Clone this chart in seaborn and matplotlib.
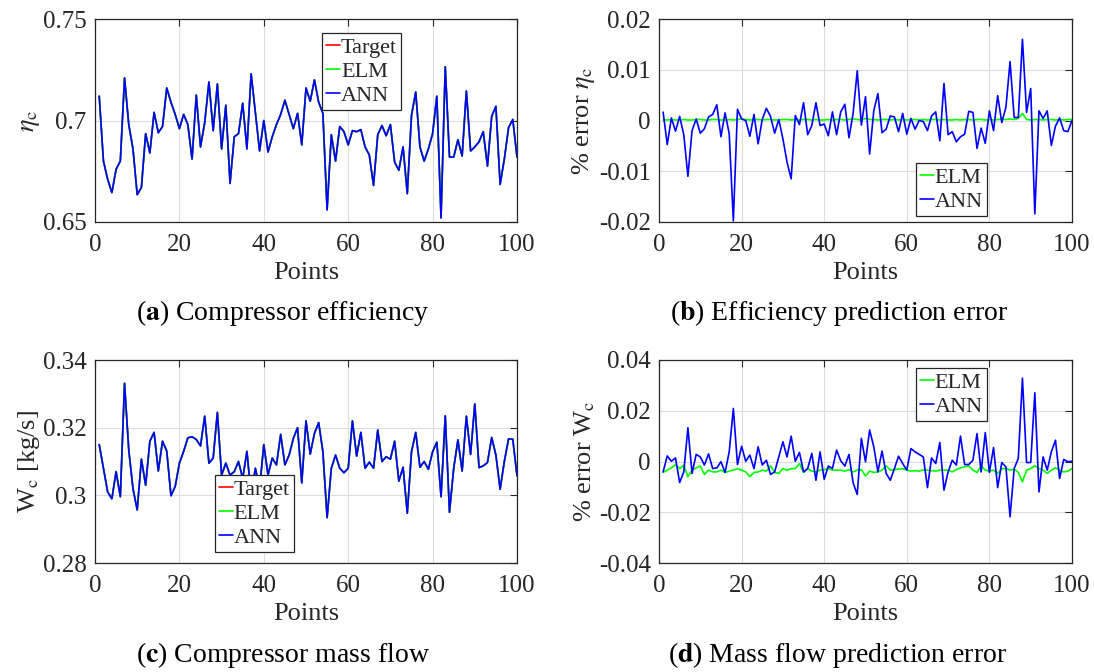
import numpy as np
import pandas as pd
import matplotlib
matplotlib.use("Agg")
import matplotlib.pyplot as plt
import seaborn as sns

points = list(range(1, 101))

eta_c = [0.712, 0.680, 0.671, 0.6645, 0.676, 0.680, 0.721, 0.698, 0.686, 0.6635,
         0.667, 0.6935, 0.684, 0.704, 0.694, 0.697, 0.716, 0.709, 0.703, 0.696,
         0.703, 0.698, 0.681, 0.7125, 0.687, 0.699, 0.719, 0.695, 0.718, 0.686,
         0.7075, 0.669, 0.692, 0.6935, 0.7085, 0.686, 0.723, 0.704, 0.685, 0.700,
         0.6845, 0.692, 0.698, 0.703, 0.710, 0.703, 0.696, 0.7035, 0.688, 0.716,
         0.7095, 0.720, 0.709, 0.7035, 0.656, 0.693, 0.680, 0.697, 0.6945, 0.688,
         0.695, 0.6945, 0.6955, 0.687, 0.683, 0.668, 0.693, 0.6975, 0.6925, 0.698,
         0.6795, 0.6755, 0.687, 0.664, 0.7025, 0.714, 0.687, 0.680, 0.686, 0.6935,
         0.712, 0.652, 0.7265, 0.682, 0.682, 0.6905, 0.6825, 0.7145, 0.685, 0.687,
         0.6895, 0.6945, 0.6775, 0.702, 0.707, 0.6685, 0.681, 0.6965, 0.7005, 0.682]

err_eta_ann = [0.00165, -0.00475, 0.0005, -0.0021, 0.0008, -0.0028, -0.011, -0.002, 0.0003, -0.0025,
               -0.0016, 0.0007, 0.0012, 0.0031, -0.0032, 0.0015, -0.0026, -0.0198, 0.0022, 0.0003,
               0.0, -0.0031, 0.0012, -0.0046, 0.0002, 0.0024, 0.0008, -0.0025, 0.0002, -0.0036,
               -0.0082, -0.0115, 0.001, -0.0008, 0.0035, -0.0028, -0.001, 0.0035, -0.001, -0.0007,
               -0.003, 0.0017, -0.0028, 0.0017, 0.0032, -0.0034, 0.0014, 0.0098, -0.0009, 0.0047,
               -0.0066, 0.0019, 0.0053, -0.0024, -0.0017, 0.0009, 0.0007, -0.0022, 0.0014, -0.0027,
               0.0004, -0.0017, 0.0, -0.0002, -0.002, 0.0009, 0.0017, -0.004, 0.0073, -0.0028,
               -0.0022, -0.0042, -0.0032, -0.0027, 0.0018, 0.0016, -0.0055, -0.0015, -0.0045, 0.0019,
               -0.002, 0.0049, -0.0004, 0.0026, 0.0116, 0.0006, 0.0006, 0.016, 0.0016, 0.0063,
               -0.0184, 0.0019, 0.0004, 0.0019, -0.0049, -0.0011, 0.0005, -0.002, -0.0022, 0.0]

err_eta_elm = [0.0001, 0.0001, 0.0002, 0.0001, 0.0001, 0.0002, 0.0001, 0.0001, 0.0002, 0.0002,
               0.0001, 0.0001, 0.0002, 0.0002, 0.0001, 0.0001, 0.0002, 0.0001, 0.0002, 0.0003,
               0.0002, 0.0001, 0.0002, 0.0002, 0.0001, 0.0002, 0.0002, 0.0001, 0.0001, 0.0002,
               0.0002, 0.0001, 0.0002, 0.0001, 0.0002, 0.0002, 0.0001, 0.0002, 0.0001, 0.0001,
               0.0002, 0.0001, 0.0002, 0.0002, 0.0001, 0.0002, 0.0003, 0.0002, 0.0001, 0.0004,
               0.0002, 0.0002, 0.0001, 0.0002, 0.0002, 0.0001, 0.0002, 0.0001, 0.0002, 0.0001,
               0.0002, 0.0002, 0.0001, 0.0002, 0.0001, 0.0002, 0.0002, 0.0001, 0.0002, 0.0001,
               0.0001, 0.0002, 0.0001, 0.0002, 0.0002, 0.0001, 0.0002, 0.0002, 0.0001, 0.0002,
               0.0001, 0.0002, 0.0002, 0.0002, 0.0003, 0.0002, 0.0004, 0.0014, 0.0002, 0.0001,
               0.0002, 0.0002, 0.0001, 0.0002, 0.0002, 0.0001, 0.0002, 0.0001, 0.0002, 0.0002]

w_c = [0.315, 0.308, 0.301, 0.299, 0.307, 0.2996, 0.3331, 0.3134, 0.302, 0.2957,
       0.3107, 0.303, 0.316, 0.3186, 0.3072, 0.316, 0.3131, 0.2999, 0.3026, 0.3095,
       0.313, 0.317, 0.3173, 0.3165, 0.3146, 0.3234, 0.3095, 0.311, 0.3245, 0.306,
       0.3095, 0.306, 0.307, 0.310, 0.305, 0.313, 0.300, 0.308, 0.302, 0.315,
       0.306, 0.311, 0.309, 0.318, 0.309, 0.3119, 0.3168, 0.320, 0.3037, 0.322,
       0.3122, 0.3183, 0.3215, 0.3129, 0.2934, 0.308, 0.3119, 0.308, 0.3067, 0.308,
       0.322, 0.3116, 0.3186, 0.308, 0.3098, 0.308, 0.3193, 0.310, 0.3114, 0.3107,
       0.316, 0.3042, 0.3083, 0.2947, 0.3129, 0.3186, 0.3083, 0.310, 0.3077, 0.3129,
       0.3157, 0.2996, 0.3235, 0.295, 0.308, 0.3164, 0.3072, 0.3234, 0.3121, 0.327,
       0.3082, 0.3087, 0.3097, 0.3171, 0.3119, 0.3018, 0.310, 0.3167, 0.3166, 0.3058]

err_w_ann = [-0.0041, 0.0022, 0.0001, 0.0014, -0.0083, -0.0041, 0.0133, -0.0047, 0.0028, 0.0018,
             -0.0014, 0.003, -0.0028, -0.0025, -0.0001, -0.0043, 0.0038, 0.0209, -0.0012, 0.006,
             0.0001, 0.0025, -0.0028, 0.0058, -0.0014, 0.0005, -0.0051, -0.0041, 0.0018, 0.0078,
             0.0018, 0.01, 0.0001, 0.0036, -0.0041, -0.0028, 0.0032, -0.0074, 0.0038, -0.007,
             -0.0018, -0.0028, 0.0045, 0.0003, -0.0018, 0.0028, -0.0084, -0.013, 0.0091, -0.0001,
             0.0124, 0.0058, -0.0041, 0.0041, -0.0047, -0.0074, -0.0028, 0.0021, -0.0008, -0.0034,
             0.0051, 0.0038, 0.0028, 0.0018, -0.0103, 0.0014, -0.0008, 0.0075, -0.0113, -0.0041,
             0.0005, -0.0014, 0.01, -0.0012, -0.0012, 0.0005, 0.011, -0.0041, 0.0114, -0.0043,
             0.0055, -0.0103, -0.0004, -0.0021, -0.0218, -0.0028, 0.0012, 0.0328, -0.0004, -0.0004,
             0.0271, -0.012, 0.0018, -0.0034, 0.0038, 0.0084, -0.0067, 0.0008, -0.0001, 0.0001]

err_w_elm = [-0.0043, -0.0034, -0.0025, -0.0012, -0.0028, -0.0014, -0.006, -0.0034, -0.0025, -0.0018,
             -0.0051, -0.0034, -0.0041, -0.0041, -0.0034, -0.0043, -0.0038, -0.0034, -0.0028, -0.0034,
             -0.0041, -0.006, -0.0043, -0.0041, -0.0034, -0.0038, -0.0017, -0.0043, -0.0047, -0.0028,
             -0.0034, -0.0028, -0.0028, -0.0008, -0.0043, -0.0028, -0.0038, -0.0041, -0.0034, -0.0032,
             -0.0028, -0.0034, -0.0034, -0.0034, -0.0038, -0.0032, -0.0041, -0.0034, -0.0032, -0.0057,
             -0.0038, -0.0043, -0.0041, -0.0034, -0.0017, -0.0034, -0.0032, -0.003, -0.0028, -0.0034,
             -0.0038, -0.0036, -0.0038, -0.0033, -0.0034, -0.0036, -0.0038, -0.0034, -0.0034, -0.0034,
             -0.0041, -0.0032, -0.0025, -0.0021, -0.0017, -0.0034, -0.0043, -0.0018, -0.0034, -0.0038,
             -0.0034, -0.0047, -0.0028, -0.0028, -0.0034, -0.003, -0.0043, -0.008, -0.0034, -0.0028,
             -0.0017, -0.0028, -0.0034, -0.0047, -0.0034, -0.0025, -0.0034, -0.0041, -0.0038, -0.0028]

x_ticks = [0, 20, 40, 60, 80, 100]
yticks_a = [0.65, 0.7, 0.75]
yticks_b = [-0.02, -0.01, 0, 0.01, 0.02]
yticks_c = [0.28, 0.3, 0.32, 0.34]
yticks_d = [-0.04, -0.02, 0, 0.02, 0.04]
ylabels_a = ["0.65", "0.7", "0.75"]
ylabels_b = ["-0.02", "-0.01", "0", "0.01", "0.02"]
ylabels_c = ["0.28", "0.3", "0.32", "0.34"]
ylabels_d = ["-0.04", "-0.02", "0", "0.02", "0.04"]

captions = [("a", " Compressor efficiency"), ("b", " Efficiency prediction error"),
            ("c", " Compressor mass flow"), ("d", " Mass flow prediction error")]

colors = {"Target": "#ff0000", "ELM": "#00ff00", "ANN": "#0000ff"}

sns.set_style("white")
plt.rcParams["font.family"] = ["Liberation Serif", "DejaVu Serif"]
plt.rcParams["mathtext.fontset"] = "stix"

fig = plt.figure(figsize=(10.94, 6.72), dpi=100)
W, H = 1094, 672

def make_ax(l, t, r, b):
    return fig.add_axes([l / W, 1 - b / H, (r - l) / W, (b - t) / H])

ax_a = make_ax(95, 19, 517, 222)
ax_b = make_ax(659, 19, 1072, 222)
ax_c = make_ax(95, 360, 517, 563)
ax_d = make_ax(659, 360, 1072, 563)

def draw(ax, series):
    frames = []
    for name, vals in series:
        frames.append(pd.DataFrame({"Points": points, "value": vals, "model": name}))
    df = pd.concat(frames, ignore_index=True)
    names = [s[0] for s in series]
    sns.lineplot(data=df, x="Points", y="value", hue="model", hue_order=names,
                 palette=[colors[n] for n in names], estimator=None, sort=False,
                 linewidth=1.2, legend=False, ax=ax)

draw(ax_a, [("Target", eta_c), ("ELM", eta_c), ("ANN", eta_c)])
draw(ax_b, [("ELM", err_eta_elm), ("ANN", err_eta_ann)])
draw(ax_c, [("Target", w_c), ("ELM", w_c), ("ANN", w_c)])
draw(ax_d, [("ELM", err_w_elm), ("ANN", err_w_ann)])

tick_fs = 18
for ax, yt, yl, ylab in [(ax_a, yticks_a, ylabels_a, r"$\eta_\mathrm{c}$"),
                         (ax_b, yticks_b, ylabels_b, r"% error $\eta_\mathrm{c}$"),
                         (ax_c, yticks_c, ylabels_c, r"W$_\mathrm{c}$ [kg/s]"),
                         (ax_d, yticks_d, ylabels_d, r"% error W$_\mathrm{c}$")]:
    ax.set_xlim(0, 100)
    ax.set_ylim(yt[0], yt[-1])
    ax.set_xticks(x_ticks)
    ax.set_xticklabels([str(v) for v in x_ticks])
    ax.set_yticks(yt)
    ax.set_yticklabels(yl)
    ax.grid(True, color="#dcdcdc", linewidth=0.8)
    ax.set_axisbelow(True)
    ax.tick_params(direction="in", top=True, right=True, length=5, width=0.8,
                   labelsize=tick_fs, colors="#262626")
    ax.tick_params(axis="x", pad=9)
    ax.tick_params(axis="y", pad=6)
    for sp in ax.spines.values():
        sp.set_visible(True)
        sp.set_color("#262626")
        sp.set_linewidth(0.9)
    ax.set_xlabel("Points", fontsize=19, color="#262626", labelpad=4)
    ax.set_ylabel(ylab, fontsize=19, color="#262626", labelpad=1)

def add_legend(ax, names, x, y):
    lines = ax.get_lines()[:len(names)]
    leg = ax.legend(lines, names, loc="upper left", bbox_to_anchor=(x, y),
                    borderaxespad=0, fontsize=16, handlelength=0.6, handletextpad=0.05,
                    borderpad=0.2, labelspacing=0.15, fancybox=False, framealpha=1,
                    edgecolor="#262626")
    leg.get_frame().set_linewidth(0.9)

add_legend(ax_a, ["Target", "ELM", "ANN"], 0.538, 0.931)
add_legend(ax_b, ["ELM", "ANN"], 0.622, 0.291)
add_legend(ax_c, ["Target", "ELM", "ANN"], 0.284, 0.433)
add_legend(ax_d, ["ELM", "ANN"], 0.622, 0.961)

cap_pos = [(283, 313), (839, 313), (283, 655), (838, 655)]
for (letter, text), (cx, cy) in zip(captions, cap_pos):
    fig.text(cx / W, 1 - cy / H, "(" + r"$\mathbf{" + letter + "}$" + ")" + text,
             ha="center", va="center", fontsize=20, color="black")

fig.savefig("out.png", dpi=100)
